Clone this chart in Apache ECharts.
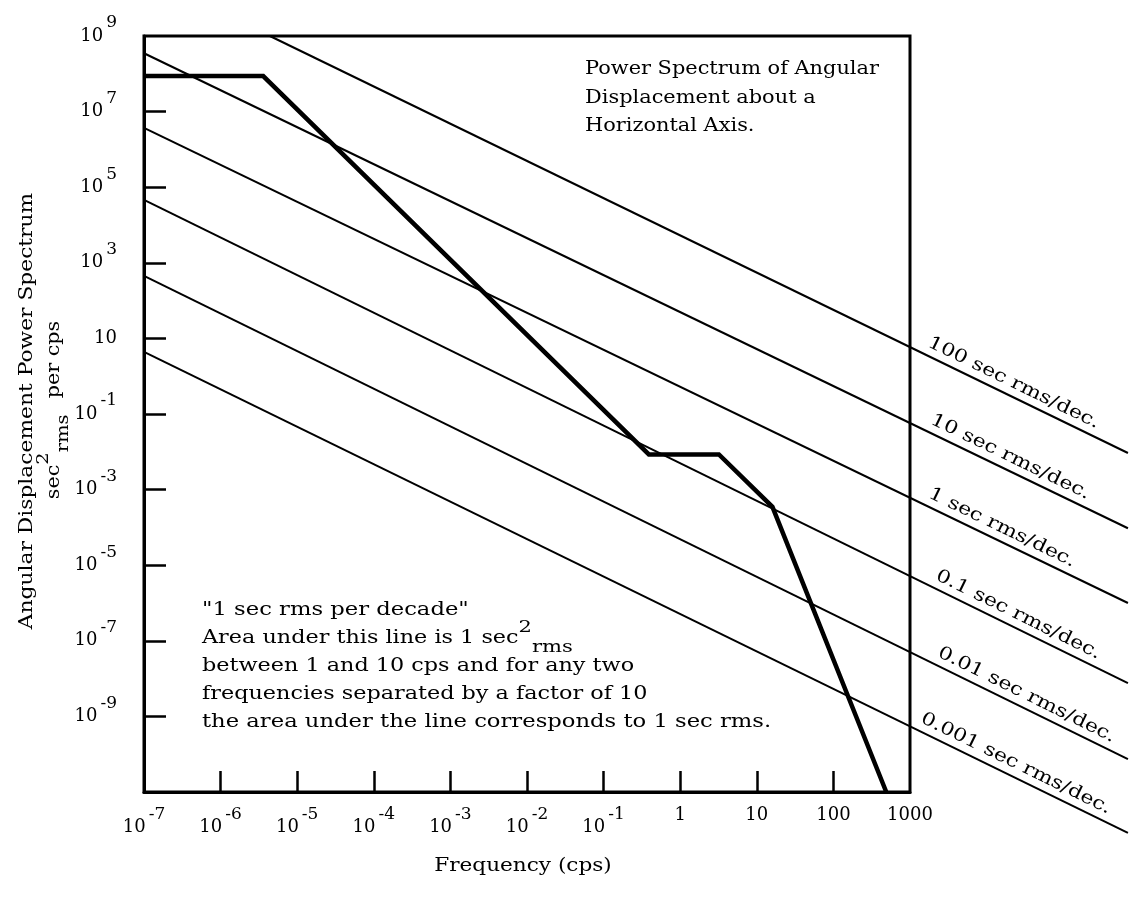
<!DOCTYPE html>
<html>
<head>
<meta charset="utf-8">
<script src="https://cdn.jsdelivr.net/npm/echarts@6/dist/echarts.min.js"></script>
<style>
  html, body { margin: 0; padding: 0; background: #ffffff; }
  #chart { width: 1134px; height: 906px; }
</style>
</head>
<body>
<div id="chart"></div>
<script>
// Power spectrum of angular displacement (heavy curve): frequency in cps, power in sec^2 rms per cps
const spectrumFreq  = [1e-7, 3.6e-6, 0.39, 3.2, 16, 490];
const spectrumPower = [8.7e7, 8.7e7, 8.5e-3, 8.5e-3, 3.5e-4, 1e-11];

// Constant "rms per decade" reference lines, each drawn between two end points
const rmsLineNames = [
  '100 sec rms/dec.', '10 sec rms/dec.', '1 sec rms/dec.',
  '0.1 sec rms/dec.', '0.01 sec rms/dec.', '0.001 sec rms/dec.'
];
const rmsLineStartFreq  = [4.4e-6, 1e-7, 1e-7, 1e-7, 1e-7, 1e-7];
const rmsLineStartPower = [1e9, 3.5e8, 3.7e6, 4.6e4, 450, 4.4];
const rmsLineEndFreq    = [7e5, 7e5, 7e5, 7e5, 7e5, 7e5];
const rmsLineEndPower   = [9.3e-3, 9.5e-5, 1e-6, 7.6e-9, 7.4e-11, 8.3e-13];

// Axis ticks and labels
const xTickValues  = [1e-6, 1e-5, 1e-4, 1e-3, 1e-2, 1e-1, 1, 10, 100];
const xLabelValues = [1e-7, 1e-6, 1e-5, 1e-4, 1e-3, 1e-2, 1e-1, 1, 10, 100, 1000];
const xLabelTexts  = ['10^-7', '10^-6', '10^-5', '10^-4', '10^-3', '10^-2', '10^-1', '1', '10', '100', '1000'];
const yTickValues  = [1e-9, 1e-7, 1e-5, 1e-3, 1e-1, 10, 1e3, 1e5, 1e7];
const yLabelValues = [1e-9, 1e-7, 1e-5, 1e-3, 1e-1, 10, 1e3, 1e5, 1e7, 1e9];
const yLabelTexts  = ['10^-9', '10^-7', '10^-5', '10^-3', '10^-1', '10', '10^3', '10^5', '10^7', '10^9'];

const FONT = 'DejaVu Serif';
const INK = '#000000';
const WIDTH = 1134, HEIGHT = 906;

// plot frame and its decade extents
const X_MIN = 1e-7, X_MAX = 1e3, Y_MIN = 1e-11, Y_MAX = 1e9;
const frame = { left: 144, right: 224, top: 36, bottom: 114 };
const decadeW = (WIDTH - frame.left - frame.right) / Math.log10(X_MAX / X_MIN);
const decadeH = (HEIGHT - frame.top - frame.bottom) / Math.log10(Y_MAX / Y_MIN);
// wider overlay grid on the same scale, so the reference lines can run past the frame
const X2_MAX = 1e6, Y2_MIN = 1e-13;
const overlay = {
  left: frame.left,
  top: frame.top,
  right: WIDTH - frame.left - decadeW * Math.log10(X2_MAX / X_MIN),
  bottom: HEIGHT - frame.top - decadeH * Math.log10(Y_MAX / Y2_MIN)
};

function labelLookup(values, texts) {
  const map = {};
  values.forEach((v, i) => { map[Math.round(Math.log10(v))] = texts[i]; });
  return function (v) {
    const t = map[Math.round(Math.log10(v))];
    if (t == null) return '';
    const parts = t.split('^');
    return parts.length > 1 ? '{b|' + parts[0] + '}{e|' + parts[1] + '}' : '{b|' + parts[0] + '}';
  };
}

const tickRich = {
  b: { fontFamily: FONT, fontSize: 18, color: INK },
  e: { fontFamily: FONT, fontSize: 17, color: INK, padding: [0, 0, 26, 3] }
};

const hiddenAxis = {
  axisLine: { show: false }, axisTick: { show: false }, axisLabel: { show: false },
  splitLine: { show: false }, minorTick: { show: false }
};

const series = [];
rmsLineNames.forEach((name, i) => {
  series.push({
    name: name,
    type: 'line',
    xAxisIndex: 1, yAxisIndex: 1,
    symbol: 'none',
    silent: true,
    lineStyle: { color: INK, width: 2 },
    data: [[rmsLineStartFreq[i], rmsLineStartPower[i]], [rmsLineEndFreq[i], rmsLineEndPower[i]]],
    z: 2
  });
});
series.push({
  name: 'Angular displacement',
  type: 'line',
  xAxisIndex: 0, yAxisIndex: 0,
  symbol: 'none',
  silent: true,
  lineStyle: { color: INK, width: 4.5, join: 'miter' },
  data: spectrumFreq.map((f, i) => [f, spectrumPower[i]]),
  z: 3
});

const chart = echarts.init(document.getElementById('chart'), null, { renderer: 'canvas' });

chart.setOption({
  animation: false,
  backgroundColor: '#ffffff',
  grid: [
    Object.assign({ show: true, borderColor: INK, borderWidth: 3, backgroundColor: 'transparent', outerBoundsMode: 'none', z: 4 }, frame),
    Object.assign({ show: false, outerBoundsMode: 'none' }, overlay)
  ],
  xAxis: [
    {
      type: 'log', logBase: 10, min: X_MIN, max: X_MAX, gridIndex: 0, z: 4,
      axisLine: { show: true, lineStyle: { color: INK, width: 3 } },
      axisTick: { show: true, inside: true, length: 21, customValues: xTickValues, lineStyle: { color: INK, width: 2.5 } },
      axisLabel: { show: true, margin: 14, customValues: xLabelValues, formatter: labelLookup(xLabelValues, xLabelTexts), rich: tickRich },
      splitLine: { show: false },
      minorTick: { show: false }
    },
    Object.assign({ type: 'log', logBase: 10, min: X_MIN, max: X2_MAX, gridIndex: 1 }, hiddenAxis)
  ],
  yAxis: [
    {
      type: 'log', logBase: 10, min: Y_MIN, max: Y_MAX, gridIndex: 0, z: 4,
      axisLine: { show: true, lineStyle: { color: INK, width: 3 } },
      axisTick: { show: true, inside: true, length: 22, customValues: yTickValues, lineStyle: { color: INK, width: 2.5 } },
      axisLabel: { show: true, margin: 27, customValues: yLabelValues, formatter: labelLookup(yLabelValues, yLabelTexts), rich: tickRich },
      splitLine: { show: false },
      minorTick: { show: false }
    },
    Object.assign({ type: 'log', logBase: 10, min: Y2_MIN, max: Y_MAX, gridIndex: 1 }, hiddenAxis)
  ],
  series: series
});

// Text blocks and rotated line labels (serif face widened to the typeset proportions)
const textStyle = { fontFamily: FONT, fontSize: 18, fill: INK };
const noteRich = {
  n: { fontFamily: FONT, fontSize: 18, fill: INK, color: INK },
  gap: { fontFamily: FONT, fontSize: 18, fill: INK, color: INK, padding: [0, 0, 0, 14] },
  sup: { fontFamily: FONT, fontSize: 17, fill: INK, color: INK, padding: [0, 0, 20, 0] },
  sub: { fontFamily: FONT, fontSize: 17, fill: INK, color: INK, padding: [20, 0, 0, 0] }
};

function wideText(text, x, y, stretch, extra, align) {
  return Object.assign({
    type: 'text', x: x, y: y, scaleX: stretch, silent: true,
    style: Object.assign({ text: text, textAlign: align || 'left', textVerticalAlign: 'middle' }, textStyle)
  }, extra || {});
}

const graphics = [
  wideText('Power Spectrum of Angular', 585, 69, 1.16),
  wideText('Displacement about a', 585, 98, 1.16),
  wideText('Horizontal Axis.', 585, 126, 1.16),
  wideText('"1 sec rms per decade"', 202, 610, 1.26),
  {
    type: 'text', x: 202, y: 638, scaleX: 1.24, silent: true,
    style: { text: '{n|Area under this line is 1 sec}{sup|2}{sub|rms}', rich: noteRich, textAlign: 'left', textVerticalAlign: 'middle', fontFamily: FONT, fontSize: 18, fill: INK }
  },
  wideText('between 1 and 10 cps and for any two', 202, 666, 1.24),
  wideText('frequencies separated by a factor of 10', 202, 694, 1.24),
  wideText('the area under the line corresponds to 1 sec rms.', 202, 722, 1.26),
  wideText('Frequency (cps)', 523, 866, 1.2, null, 'center'),
  {
    type: 'text', x: 27, y: 411, rotation: Math.PI / 2, scaleX: 1.21, silent: true,
    style: Object.assign({ text: 'Angular Displacement Power Spectrum', textAlign: 'center', textVerticalAlign: 'middle' }, textStyle)
  },
  {
    type: 'text', x: 54, y: 410, rotation: Math.PI / 2, scaleX: 1.15, silent: true,
    style: { text: '{n|sec}{sup|2}{sub|rms}{gap|per cps}', rich: noteRich, textAlign: 'center', textVerticalAlign: 'middle', fontFamily: FONT, fontSize: 18, fill: INK }
  }
];

// place each line's label just past the right frame, lying along its line
const labelInset = [13, 16, 14, 21, 23, 6];
const frameRight = chart.convertToPixel({ xAxisIndex: 0 }, X_MAX);
rmsLineNames.forEach((name, i) => {
  const p0 = chart.convertToPixel({ gridIndex: 1 }, [rmsLineStartFreq[i], rmsLineStartPower[i]]);
  const p1 = chart.convertToPixel({ gridIndex: 1 }, [rmsLineEndFreq[i], rmsLineEndPower[i]]);
  const ang = Math.atan2(p1[1] - p0[1], p1[0] - p0[0]);
  const xa = frameRight + labelInset[i];
  const t = (xa - p0[0]) / (p1[0] - p0[0]);
  const ya = p0[1] + t * (p1[1] - p0[1]);
  const lift = 4;
  graphics.push({
    type: 'text', silent: true,
    x: xa + lift * Math.sin(ang), y: ya - lift * Math.cos(ang),
    rotation: -ang, scaleX: 1.22,
    style: Object.assign({ text: name, textAlign: 'left', textVerticalAlign: 'bottom' }, textStyle)
  });
});

chart.setOption({ graphic: graphics });
</script>
</body>
</html>
